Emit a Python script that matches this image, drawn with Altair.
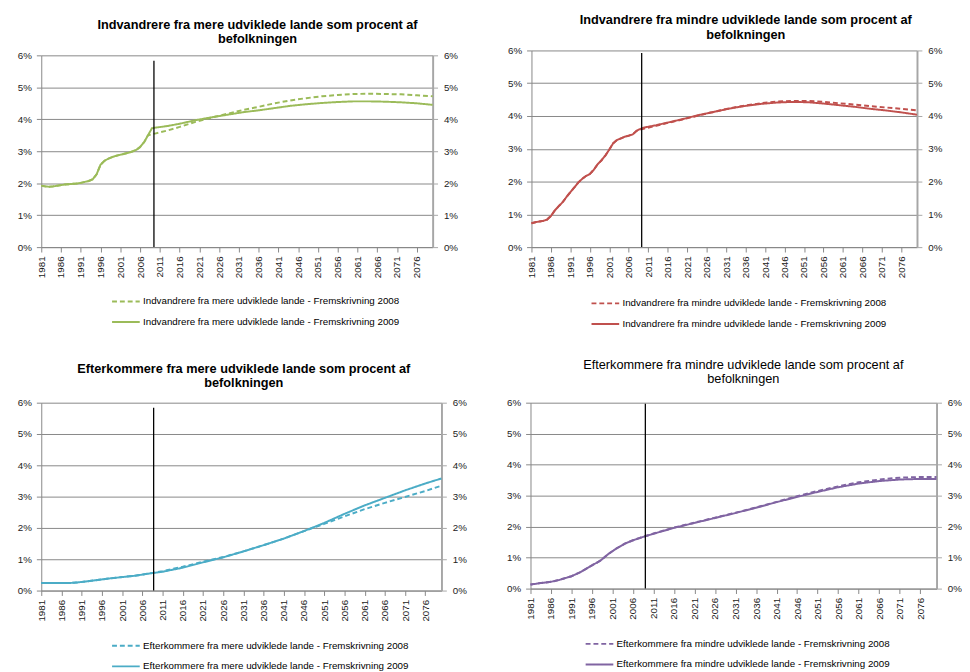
import altair as alt
import pandas as pd

FONT = "Liberation Sans"

# ---------------- data (percent of population) ----------------
# Panel 1: Indvandrere fra mere udviklede lande
p1_hist_years = list(range(1981, 2009))
p1_hist_vals = [1.92, 1.90, 1.89, 1.90, 1.92, 1.94, 1.96, 1.97, 1.98, 1.99,
                2.01, 2.04, 2.07, 2.12, 2.28, 2.58, 2.70, 2.77, 2.82, 2.86,
                2.89, 2.92, 2.95, 2.99, 3.04, 3.13, 3.28, 3.50]
p1_y08 = [2010, 2013, 2016, 2020, 2024, 2028, 2032, 2036, 2040, 2044, 2048, 2052, 2056, 2060, 2064, 2068, 2072, 2076, 2080]
p1_v08 = [3.56, 3.65, 3.76, 3.92, 4.05, 4.17, 4.29, 4.39, 4.50, 4.59, 4.66, 4.72, 4.76, 4.79, 4.80, 4.79, 4.78, 4.75, 4.72]
p1_y09 = [2009, 2010, 2013, 2016, 2020, 2024, 2028, 2032, 2036, 2040, 2044, 2048, 2052, 2056, 2060, 2064, 2068, 2072, 2076, 2080]
p1_v09 = [3.72, 3.74, 3.79, 3.86, 3.97, 4.06, 4.14, 4.22, 4.28, 4.35, 4.42, 4.47, 4.51, 4.54, 4.56, 4.56, 4.55, 4.53, 4.50, 4.45]

# Panel 2: Indvandrere fra mindre udviklede lande
p2_hist_years = list(range(1981, 2009))
p2_hist_vals = [0.73, 0.76, 0.78, 0.80, 0.84, 0.95, 1.12, 1.25, 1.37, 1.53,
                1.68, 1.82, 1.97, 2.08, 2.17, 2.23, 2.36, 2.53, 2.65, 2.80,
                2.98, 3.17, 3.27, 3.32, 3.37, 3.40, 3.44, 3.55]
p2_y08 = [2010, 2013, 2016, 2020, 2024, 2028, 2032, 2036, 2040, 2044, 2048, 2052, 2056, 2060, 2064, 2068, 2072, 2076, 2080]
p2_v08 = [3.62, 3.70, 3.79, 3.90, 4.02, 4.13, 4.24, 4.32, 4.39, 4.44, 4.46, 4.46, 4.43, 4.39, 4.35, 4.30, 4.26, 4.22, 4.17]
p2_y09 = [2009, 2010, 2013, 2016, 2020, 2024, 2028, 2032, 2036, 2040, 2044, 2048, 2052, 2056, 2060, 2064, 2068, 2072, 2076, 2080]
p2_v09 = [3.61, 3.65, 3.72, 3.80, 3.91, 4.03, 4.13, 4.23, 4.31, 4.37, 4.41, 4.43, 4.42, 4.38, 4.33, 4.28, 4.22, 4.17, 4.11, 4.04]

# Panel 3: Efterkommere fra mere udviklede lande
p3_hist_years = [1981, 1983, 1985, 1988, 1990, 1992, 1995, 1998, 2001, 2004, 2006, 2008]
p3_hist_vals = [0.24, 0.24, 0.24, 0.24, 0.26, 0.29, 0.34, 0.39, 0.43, 0.47, 0.51, 0.55]
p3_y08 = [2011, 2016, 2021, 2026, 2031, 2036, 2041, 2046, 2051, 2056, 2061, 2066, 2071, 2076, 2080]
p3_v08 = [0.62, 0.76, 0.92, 1.07, 1.25, 1.45, 1.66, 1.90, 2.13, 2.37, 2.60, 2.80, 2.99, 3.18, 3.35]
p3_y09 = [2011, 2016, 2021, 2026, 2031, 2036, 2041, 2046, 2051, 2056, 2061, 2066, 2071, 2076, 2080]
p3_v09 = [0.60, 0.73, 0.90, 1.06, 1.25, 1.45, 1.66, 1.90, 2.16, 2.45, 2.72, 2.96, 3.20, 3.42, 3.58]

# Panel 4: Efterkommere fra mindre udviklede lande
p4_hist_years = [1981, 1983, 1986, 1988, 1991, 1993, 1996, 1998, 2000, 2002, 2004, 2006, 2008]
p4_hist_vals = [0.13, 0.17, 0.22, 0.28, 0.40, 0.52, 0.75, 0.90, 1.12, 1.30, 1.45, 1.56, 1.65]
p4_y08 = [2011, 2016, 2021, 2026, 2031, 2036, 2041, 2046, 2051, 2056, 2061, 2066, 2071, 2076, 2080]
p4_v08 = [1.78, 1.97, 2.13, 2.29, 2.45, 2.62, 2.80, 2.98, 3.15, 3.30, 3.43, 3.52, 3.58, 3.60, 3.60]
p4_y09 = [2011, 2016, 2021, 2026, 2031, 2036, 2041, 2046, 2051, 2056, 2061, 2066, 2071, 2076, 2080]
p4_v09 = [1.77, 1.96, 2.12, 2.28, 2.44, 2.61, 2.79, 2.96, 3.12, 3.27, 3.39, 3.47, 3.52, 3.54, 3.54]

# vertical marker line (year, top in %) per panel
marker_years = [2009.5, 2009.3, 2008.8, 2009.0]
marker_tops = [5.83, 5.92, 5.84, 5.97]

x_tick_years = list(range(1981, 2080, 5))
y_ticks = [0, 1, 2, 3, 4, 5, 6]

panels = [
    dict(title=["Indvandrere fra mere udviklede lande som procent af", "befolkningen"],
         bold=True, fsize=13, dx=21, offset=5, lh=13.5,
         color="#9BBB59", label="Indvandrere fra mere udviklede lande - Fremskrivning ",
         hy=p1_hist_years, hv=p1_hist_vals, y08=p1_y08, v08=p1_v08, y09=p1_y09, v09=p1_v09,
         width=400, height=201, ph=196, ext=33.7, lx=71, ly=241),
    dict(title=["Indvandrere fra mindre udviklede lande som procent af", "befolkningen"],
         bold=True, fsize=13, dx=22, offset=4, lh=15.5,
         color="#C0504D", label="Indvandrere fra mindre udviklede lande - Fremskrivning ",
         hy=p2_hist_years, hv=p2_hist_vals, y08=p2_y08, v08=p2_v08, y09=p2_y09, v09=p2_v09,
         width=394, height=201, ph=201, ext=26.6, lx=60, ly=243),
    dict(title=["Efterkommere fra mere udviklede lande som procent af", "befolkningen"],
         bold=True, fsize=13, dx=2.5, offset=8, lh=14.5,
         color="#4BACC6", label="Efterkommere fra mere udviklede lande - Fremskrivning ",
         hy=p3_hist_years, hv=p3_hist_vals, y08=p3_y08, v08=p3_v08, y09=p3_y09, v09=p3_v09,
         width=409, height=192, ph=192, ext=28, lx=71, ly=233),
    dict(title=["Efterkommere fra mindre udviklede lande som procent af", "befolkningen"],
         bold=False, fsize=13, dx=10, offset=12, lh=14,
         color="#8064A2", label="Efterkommere fra mindre udviklede lande - Fremskrivning ",
         hy=p4_hist_years, hv=p4_hist_vals, y08=p4_y08, v08=p4_v08, y09=p4_y09, v09=p4_v09,
         width=415, height=190, ph=190, ext=26.5, lx=55, ly=231),
]


def make_panel(i, c):
    n08 = c["label"] + "2008"
    n09 = c["label"] + "2009"
    rows = []
    for yr, v in zip(c["hy"] + c["y08"], c["hv"] + c["v08"]):
        rows.append({"year": yr, "value": v, "series": n08})
    for yr, v in zip(c["hy"] + c["y09"], c["hv"] + c["v09"]):
        rows.append({"year": yr, "value": v, "series": n09})
    df = pd.DataFrame(rows)
    mk = pd.DataFrame({"year": [marker_years[i]], "bottom": [0.0], "top": [marker_tops[i]]})

    xs = alt.Scale(domain=[1981, 2080], nice=False, zero=False)
    ys = alt.Scale(domain=[0, 6], nice=False, range=[c["height"], c["height"] - c["ph"]])

    legend = alt.Legend(orient="none", legendX=c["lx"], legendY=c["ly"], direction="vertical",
                        title=None, symbolType="stroke", symbolSize=800, symbolStrokeWidth=2,
                        labelFontSize=10, labelFont=FONT, labelColor="#000", rowPadding=-1,
                        labelLimit=600, padding=0, labelOffset=2)

    x_axis = alt.Axis(values=x_tick_years, format="d", labelAngle=270, grid=False,
                      labelOverlap=False, labelFlush=False, labelSeparation=0,
                      tickSize=5, tickColor="#868686", domainColor="#868686",
                      labelFontSize=10, labelColor="#222", labelPadding=4, title=None)
    yl_axis = alt.Axis(values=y_ticks, labelExpr="datum.value + '%'", grid=True,
                       gridColor="#868686", gridWidth=1, tickSize=5, tickColor="#868686",
                       domainColor="#868686", labelFontSize=10, labelColor="#222",
                       labelPadding=5, title=None, minExtent=c["ext"], maxExtent=c["ext"])
    yr_axis = alt.Axis(values=y_ticks, labelExpr="datum.value + '%'", grid=False, orient="right",
                       tickSize=5, tickColor="#A6A6A6", domainColor="#A6A6A6", domainWidth=2,
                       labelFontSize=10, labelColor="#222", labelPadding=6, title=None,
                       minExtent=25, maxExtent=25)

    cdom = [n08, n09]
    lines = alt.Chart(df).mark_line(strokeWidth=2).encode(
        x=alt.X("year:Q", scale=xs, axis=x_axis),
        y=alt.Y("value:Q", scale=ys, axis=yl_axis),
        color=alt.Color("series:N", scale=alt.Scale(domain=cdom, range=[c["color"], c["color"]]),
                        legend=legend),
        strokeDash=alt.StrokeDash("series:N", scale=alt.Scale(domain=cdom, range=[[5, 3], [1, 0]]),
                                  legend=legend),
    )
    rule = alt.Chart(mk).mark_rule(color="#000", strokeWidth=1.3).encode(
        x=alt.X("year:Q", scale=xs, axis=None),
        y=alt.Y("bottom:Q", scale=ys, axis=None),
        y2="top:Q",
    )
    right = alt.Chart(mk).mark_point(opacity=0).encode(
        x=alt.X("year:Q", scale=xs, axis=None),
        y=alt.Y("top:Q", scale=ys, axis=yr_axis),
    )
    title = alt.TitleParams(text=c["title"], fontSize=c["fsize"],
                            fontWeight="bold" if c["bold"] else "normal", font=FONT,
                            anchor="middle", frame="group", dx=c["dx"], offset=c["offset"],
                            lineHeight=c["lh"], color="#000")
    return alt.layer(lines, rule, right).resolve_axis(x="independent", y="independent").properties(
        width=c["width"], height=c["height"], title=title)


def indep(ch):
    return ch.resolve_scale(color="independent", strokeDash="independent").resolve_legend(
        color="independent", strokeDash="independent")


p = [make_panel(i, c) for i, c in enumerate(panels)]
row1 = indep(alt.hconcat(p[0], p[1], spacing=48))
row2 = indep(alt.hconcat(p[2], p[3], spacing=38))
chart = indep(alt.vconcat(row1, row2, spacing=31)).properties(
    padding={"left": 0, "top": -2, "right": 0, "bottom": 0}
).configure(font=FONT).configure_view(strokeWidth=0)

chart.save("out.html", embed_options={"renderer": "svg", "actions": False})
